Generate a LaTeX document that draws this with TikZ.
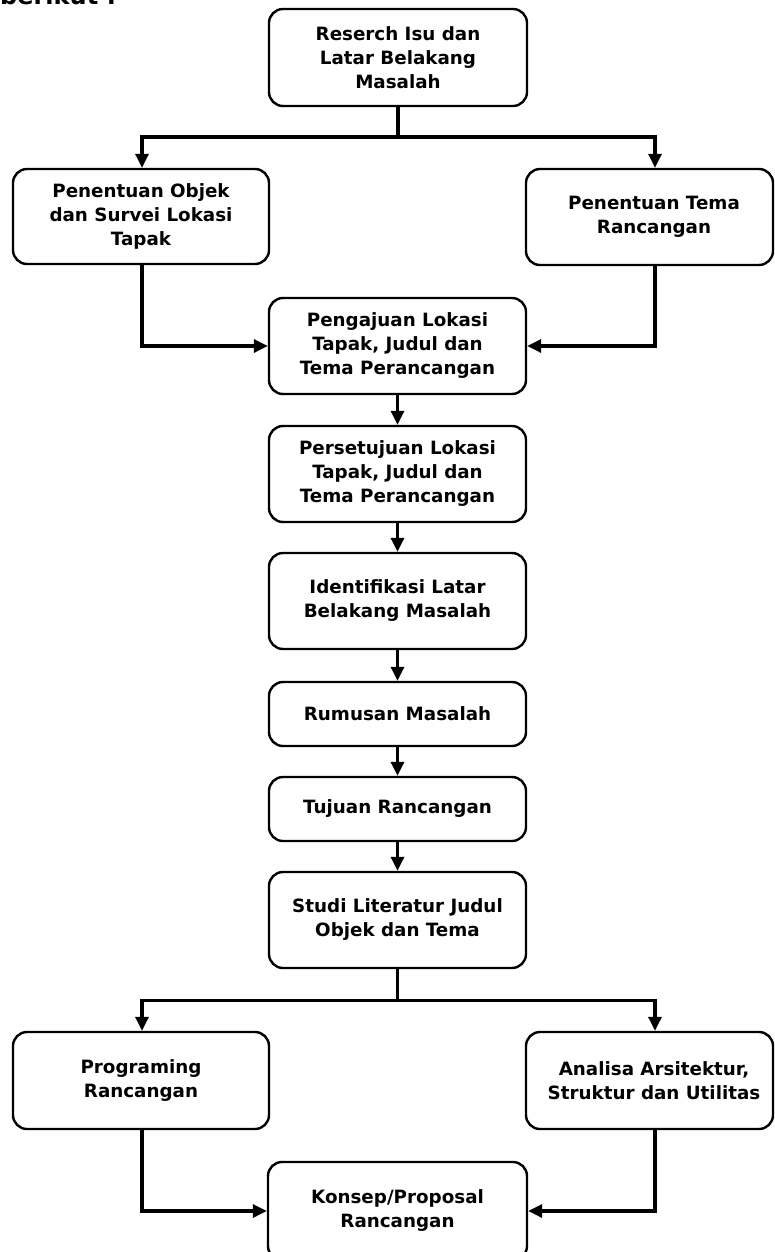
\documentclass[tikz,border=0pt]{standalone}
\usepackage{fontspec}
\setmainfont{DejaVu Sans}
\usetikzlibrary{arrows.meta}
\begin{document}
\begin{tikzpicture}[x=1pt,y=-1pt,
  box/.style={draw, line width=2.4pt, rounded corners=14pt, inner sep=0pt},
  txt/.style={font=\bfseries\fontsize{18.3}{24}\selectfont, align=center, inner sep=0pt},
  btxt/.style={box, txt},
  conn/.style={line width=3.2pt, -{Triangle[length=14pt,width=13pt]}},
  plainline/.style={line width=3.2pt}]
\useasboundingbox (0,0) rectangle (774,1252);

\node[anchor=base west, inner sep=0pt, font=\bfseries\fontsize{24}{28}\selectfont] (brk) at (0,4.5) {berikut :};

\node[btxt, minimum width=258pt, minimum height=97pt] (top) at (398,57.5) {Reserch Isu dan\\Latar Belakang\\Masalah};
\node[btxt, minimum width=256pt, minimum height=95pt] (left1) at (141,216.5) {Penentuan Objek\\dan Survei Lokasi\\Tapak};
\node[box, minimum width=247pt, minimum height=96pt] (right1) at (649.5,217) {};
\node[txt] (right1t) at (654,217) {Penentuan Tema\\Rancangan};
\node[btxt, minimum width=257pt, minimum height=96pt] (peng) at (397.5,346) {Pengajuan Lokasi\\Tapak, Judul dan\\Tema Perancangan};
\node[btxt, minimum width=257pt, minimum height=96pt] (pers) at (397.5,474) {Persetujuan Lokasi\\Tapak, Judul dan\\Tema Perancangan};
\node[btxt, minimum width=257pt, minimum height=96pt] (iden) at (397.5,601) {Identifikasi Latar\\Belakang Masalah};
\node[btxt, minimum width=257pt, minimum height=64pt] (rum) at (397.5,714) {Rumusan Masalah};
\node[btxt, minimum width=257pt, minimum height=64pt] (tuj) at (397.5,809) {Tujuan Rancangan};
\node[btxt, minimum width=257pt, minimum height=96pt] (studi) at (397.5,920) {Studi Literatur Judul\\Objek dan Tema};
\node[btxt, minimum width=256pt, minimum height=97pt] (prog) at (141,1080.5) {Programing\\Rancangan};
\node[box, minimum width=247pt, minimum height=97pt] (anal) at (649.5,1080.5) {};
\node[txt] (analt) at (654,1080.5) {Analisa Arsitektur,\\Struktur dan Utilitas};
\node[btxt, minimum width=259pt, minimum height=98pt] (kons) at (397.5,1211) {Konsep/Proposal\\Rancangan};

\coordinate (j1) at (398,137);
\draw[plainline] (top.south) -- (j1);
\draw[conn] (j1) -| ([xshift=1pt]left1.north);
\draw[conn] (j1) -| (655,0 |- right1.north);
\draw[conn] ([xshift=1pt]left1.south) |- (peng.west);
\draw[conn] (655,0 |- right1.south) |- (peng.east);
\draw[conn] (peng.south) -- (pers.north);
\draw[conn] (pers.south) -- (iden.north);
\draw[conn] (iden.south) -- (rum.north);
\draw[conn] (rum.south) -- (tuj.north);
\draw[conn] (tuj.south) -- (studi.north);
\coordinate (j2) at (397.5,1000.5);
\draw[plainline] (studi.south) -- (j2);
\draw[conn] (j2) -| ([xshift=1pt]prog.north);
\draw[conn] (j2) -| (655,0 |- anal.north);
\draw[conn] ([xshift=1pt]prog.south) |- (kons.west);
\draw[conn] (655,0 |- anal.south) |- (kons.east);
\end{tikzpicture}
\end{document}
